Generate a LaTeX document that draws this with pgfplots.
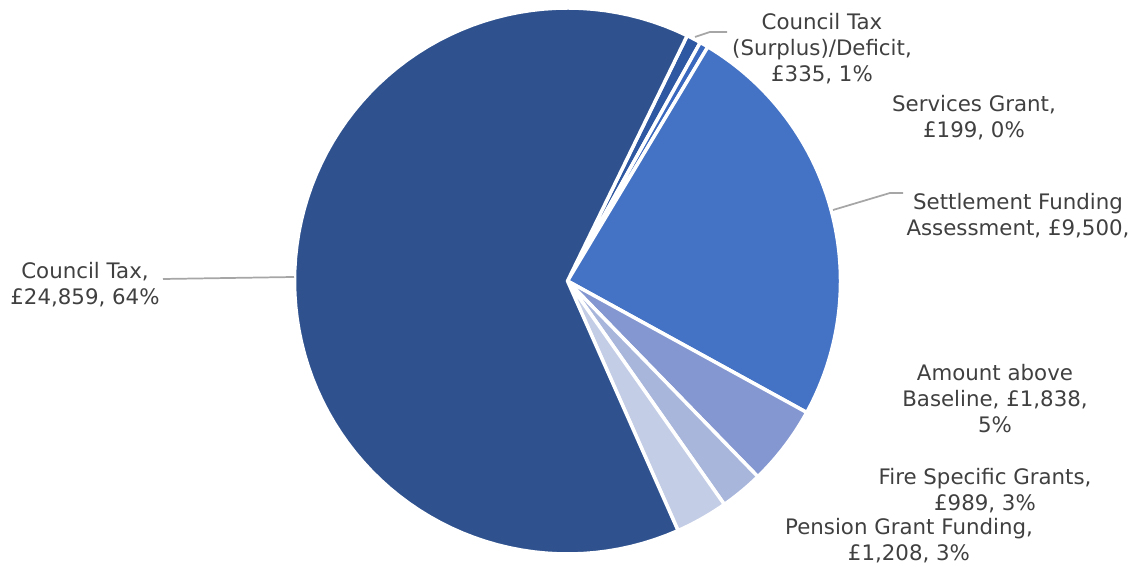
\documentclass[border=0pt]{standalone}
\usepackage{pgfplots}
\usepackage{pgfplotstable}
\pgfplotsset{compat=1.18}
\usepackage{fontspec}
\setmainfont{DejaVu Sans}
\definecolor{txt}{HTML}{404040}
\definecolor{lead}{HTML}{A6A6A6}
\definecolor{cA}{HTML}{2F58A3}
\definecolor{cB}{HTML}{3A68BE}
\definecolor{cC}{HTML}{4472C4}
\definecolor{cD}{HTML}{8497D0}
\definecolor{cE}{HTML}{A9B6DC}
\definecolor{cF}{HTML}{C4CDE6}
\definecolor{cG}{HTML}{2F528F}

\pgfplotstableread{
value
335
199
9500
1838
989
1208
24859
}\pietable

\begin{document}
\begin{tikzpicture}
\pgfplotstablegetelem{0}{value}\of\pietable \edef\vA{\pgfplotsretval}
\pgfplotstablegetelem{1}{value}\of\pietable \edef\vB{\pgfplotsretval}
\pgfplotstablegetelem{2}{value}\of\pietable \edef\vC{\pgfplotsretval}
\pgfplotstablegetelem{3}{value}\of\pietable \edef\vD{\pgfplotsretval}
\pgfplotstablegetelem{4}{value}\of\pietable \edef\vE{\pgfplotsretval}
\pgfplotstablegetelem{5}{value}\of\pietable \edef\vF{\pgfplotsretval}
\pgfplotstablegetelem{6}{value}\of\pietable \edef\vG{\pgfplotsretval}
\pgfkeys{/pgf/fpu=true,/pgf/fpu/output format=fixed}
\pgfmathsetmacro\tot{\vA+\vB+\vC+\vD+\vE+\vF+\vG}
\pgfmathsetmacro\aA{64}
\pgfmathsetmacro\aB{\aA-360*\vA/\tot}
\pgfmathsetmacro\aC{\aB-360*\vB/\tot}
\pgfmathsetmacro\aD{\aC-360*\vC/\tot}
\pgfmathsetmacro\aE{\aD-360*\vD/\tot}
\pgfmathsetmacro\aF{\aE-360*\vE/\tot}
\pgfmathsetmacro\aG{\aF-360*\vF/\tot}
\pgfmathsetmacro\aH{\aG-360*\vG/\tot}
\pgfkeys{/pgf/fpu=false}
\begin{axis}[
  x=0.75pt, y=0.75pt,
  xmin=0, xmax=1143, ymin=0, ymax=567,
  hide axis, clip=false,
]
\addplot[draw=none] coordinates {(0,0) (1143,567)};
\pgfplotsset{slice/.style={draw=white, line width=2.6pt, line join=round, samples=90}}
\addplot[slice, fill=cA, domain=\aB:\aA] ({567.5+273*cos(x)},{286+273*sin(x)}) -- (axis cs:567.5,286) -- cycle;
\addplot[slice, fill=cB, domain=\aC:\aB] ({567.5+273*cos(x)},{286+273*sin(x)}) -- (axis cs:567.5,286) -- cycle;
\addplot[slice, fill=cC, domain=\aD:\aC] ({567.5+273*cos(x)},{286+273*sin(x)}) -- (axis cs:567.5,286) -- cycle;
\addplot[slice, fill=cD, domain=\aE:\aD] ({567.5+273*cos(x)},{286+273*sin(x)}) -- (axis cs:567.5,286) -- cycle;
\addplot[slice, fill=cE, domain=\aF:\aE] ({567.5+273*cos(x)},{286+273*sin(x)}) -- (axis cs:567.5,286) -- cycle;
\addplot[slice, fill=cF, domain=\aG:\aF] ({567.5+273*cos(x)},{286+273*sin(x)}) -- (axis cs:567.5,286) -- cycle;
\addplot[slice, fill=cG, domain=\aH:\aG] ({567.5+273*cos(x)},{286+273*sin(x)}) -- (axis cs:567.5,286) -- cycle;
% leader lines
\addplot[lead, line width=1.3pt] coordinates {(163,288) (294,290)};
\addplot[lead, line width=1.3pt] coordinates {(695,530) (710,535) (727,535)};
\addplot[lead, line width=1.3pt] coordinates {(833,357) (890,374) (903,374)};
% labels
\tikzset{lbl/.style={text=txt, align=center, font=\fontsize{16}{19.5}\selectfont, inner sep=0pt}}
\node[lbl] at (axis cs:85,282) {Council Tax,\\£24,859, 64\%};
\node[lbl] at (axis cs:822,518) {Council Tax\\(Surplus)/Deficit,\\£335, 1\%};
\node[lbl] at (axis cs:974,449) {Services Grant,\\£199, 0\%};
\node[lbl] at (axis cs:1018,351) {Settlement Funding\\Assessment, £9,500,};
\node[lbl] at (axis cs:995,168) {Amount above\\Baseline, £1,838,\\5\%};
\node[lbl] at (axis cs:985,76) {Fire Specific Grants,\\£989, 3\%};
\node[lbl] at (axis cs:909,26) {Pension Grant Funding,\\£1,208, 3\%};
\end{axis}
\end{tikzpicture}
\end{document}
